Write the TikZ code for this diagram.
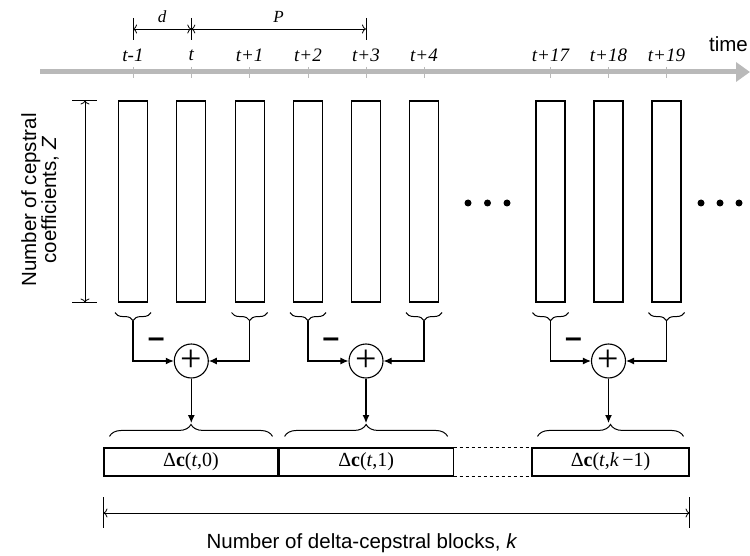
\documentclass[tikz,border=0pt]{standalone}
\usepackage{fontspec}
\setmainfont{Liberation Serif}
\setsansfont{Liberation Sans}
\usetikzlibrary{arrows.meta,decorations.pathreplacing,positioning}
\tikzset{coef/.style={draw,line width=1.1pt,minimum width=29pt,minimum height=201pt,inner sep=0pt},
    tickmark/.style={draw=gray!55,line width=0.9pt},
    tlabel/.style={font=\fontsize{19}{19}\selectfont\itshape},
    dimline/.style={line width=0.8pt,{To[length=4pt,width=9pt]}-{To[length=4pt,width=9pt]}},
    sumnode/.style={draw,circle,line width=1.1pt,minimum size=34pt,inner sep=0pt,
        font=\fontsize{38}{38}\selectfont},
    feed/.style={line width=1.1pt,-{Latex[length=8pt,width=7pt]}},
    lobrace/.style={draw,line width=1pt,decorate,decoration={brace,mirror,amplitude=8pt}},
    hibrace/.style={draw,line width=1pt,decorate,decoration={brace,amplitude=12pt}},
    block/.style={draw,line width=1.1pt,minimum height=28pt,inner sep=0pt,
        font=\fontsize{20}{20}\selectfont},
    minus/.style={font=\sffamily\bfseries\fontsize{30}{30}\selectfont},
    sans/.style={font=\sffamily\fontsize{20.5}{18.5}\selectfont}}

\begin{document}
\begin{tikzpicture}[x=1pt,y=-1pt]
\useasboundingbox (0,0) rectangle (750,556);
% time axis
\draw[gray!55,line width=5pt,-{Triangle[length=14pt,width=19pt]}] (40,72) -- (750,72);
\node[sans,anchor=east,inner sep=1pt] (time) at (749,44) {time};
% cepstral vectors
\foreach \n/\x/\lab in {1/133/{t-1},2/191.3/t,3/249.6/{t+1},4/308/{t+2},5/366/{t+3},
    6/424/{t+4},7/550.5/{t+17},8/608.5/{t+18},9/666.5/{t+19}}{
    \node[coef] (c\n) at (\x,201.5) {};
    \draw[tickmark] (\x,67) -- (\x,78);
    \node[tlabel] (l\n) at (\x,55) {\lab};
}
\foreach \x in {468,487.5,507,701,720,739}
    \fill (\x,203) circle (3.5pt);
% Z
\coordinate (zx) at (85,0);
\draw[line width=0.8pt] ([xshift=-13pt]c1.north -| zx) -- ([xshift=12pt]c1.north -| zx);
\draw[line width=0.8pt] ([xshift=-13pt]c1.south -| zx) -- ([xshift=12pt]c1.south -| zx);
\draw[dimline] (c1.north -| zx) -- (c1.south -| zx);
\node[sans,rotate=90,align=center] (zlab) at (40,200) {Number of cepstral\\coefficients, \textit{Z}};
% d and P
\coordinate (d0) at (133,29);
\coordinate (d1) at (191.3,29);
\coordinate (d2) at (366,29);
\foreach \p in {d0,d1,d2}
    \draw[line width=0.8pt] ([yshift=11pt]\p) -- ([yshift=-11pt]\p);
\draw[dimline] (d0) -- node[above=6pt,inner sep=0pt,font=\fontsize{17}{17}\selectfont\itshape] (dlab) {d} (d1);
\draw[dimline] (d1) -- node[above=6pt,inner sep=0pt,font=\fontsize{17}{17}\selectfont\itshape] (plab) {P} (d2);
% delta blocks
\node[block,minimum width=174pt] (b1) at (191,462) {Δ\textbf{c}(\textit{t},0)};
\node[block,minimum width=174pt,right=0pt of b1] (b2) {Δ\textbf{c}(\textit{t},1)};
\node[block,minimum width=157pt] (b3) at (610.5,462) {Δ\textbf{c}(\textit{t},\textit{k}\,−1)};
\draw[dashed,line width=1.1pt] (b2.north east) -- (b3.north west);
\draw[dashed,line width=1.1pt] (b2.south east) -- (b3.south west);
% differences
\foreach \g/\a/\m/\b in {1/1/2/3,2/4/5/6,3/7/8/9}{
    \node[sumnode] (s\g) at (c\m.south |- 0,361) {+};
    \draw[lobrace] ([xshift=-3pt,yshift=-10pt]c\a.south west) -- ([xshift=3pt,yshift=-10pt]c\a.south east);
    \draw[lobrace] ([xshift=-3pt,yshift=-10pt]c\b.south west) -- ([xshift=3pt,yshift=-10pt]c\b.south east);
    \draw[feed] ([yshift=-18pt]c\a.south) |- (s\g.west);
    \draw[feed] ([yshift=-18pt]c\b.south) |- (s\g.east);
    \node[minus] (m\g) at ([xshift=-35pt,yshift=18pt]s\g.center) {–};
    \draw[hibrace] ([xshift=6pt,yshift=11pt]b\g.north west) -- ([xshift=-6pt,yshift=11pt]b\g.north east);
    \draw[feed] (s\g.south) -- (s\g.south |- 0,423);
}
% k
\coordinate (k0) at (b1.west |- 0,513);
\coordinate (k1) at (b3.east |- 0,513);
\draw[line width=0.8pt] ([yshift=16pt]k0) -- ([yshift=-15pt]k0);
\draw[line width=0.8pt] ([yshift=16pt]k1) -- ([yshift=-15pt]k1);
\draw[dimline] (k0) -- (k1);
\node[sans] (klab) at (362,543) {Number of delta-cepstral blocks, \textit{k}};
\end{tikzpicture}
\end{document}
